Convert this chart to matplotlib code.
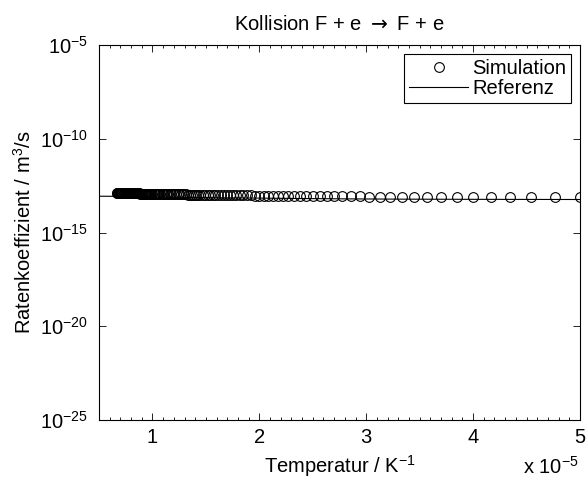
import matplotlib
matplotlib.use("Agg")
import matplotlib.pyplot as plt
from matplotlib.ticker import FixedLocator, MultipleLocator, LogFormatterMathtext, NullLocator
import numpy as np

plt.rcParams['font.family'] = ['Liberation Sans', 'DejaVu Sans']
plt.rcParams['mathtext.fontset'] = 'custom'
plt.rcParams['mathtext.rm'] = 'Liberation Sans'
plt.rcParams['mathtext.it'] = 'Liberation Sans:italic'
plt.rcParams['mathtext.bf'] = 'Liberation Sans:bold'

# Simulation: temperature in kK, rate coefficient in units of 1e-13 m^3/s
sim_temperature_kK = [
    20, 21, 22, 23, 24, 25, 26, 27, 28, 29,
    30, 31, 32, 33, 34, 35, 36, 37, 38, 39,
    40, 41, 42, 43, 44, 45, 46, 47, 48, 49,
    50, 51, 52, 53, 54, 55, 56, 57, 58, 59,
    60, 61, 62, 63, 64, 65, 66, 67, 68, 69,
    70, 71, 72, 73, 74, 75, 76, 77, 78, 79,
    80, 81, 82, 83, 84, 85, 86, 87, 88, 89,
    90, 91, 92, 93, 94, 95, 96, 97, 98, 99,
    100, 101, 102, 103, 104, 105, 106, 107, 108, 109,
    110, 111, 112, 113, 114, 115, 116, 117, 118, 119,
    120, 121, 122, 123, 124, 125, 126, 127, 128, 129,
    130, 131, 132, 133, 134, 135, 136, 137, 138, 139,
    140, 141, 142, 143, 144, 145, 146, 147, 148, 149,
    150,
]
sim_rate_e13 = [
    0.760, 0.766, 0.772, 0.778, 0.784, 0.790, 0.794, 0.798, 0.802, 0.806,
    0.810, 0.816, 0.822, 0.828, 0.834, 0.840, 0.846, 0.852, 0.858, 0.864,
    0.870, 0.876, 0.882, 0.888, 0.894, 0.900, 0.906, 0.912, 0.918, 0.924,
    0.930, 0.936, 0.942, 0.948, 0.954, 0.960, 0.966, 0.972, 0.978, 0.984,
    0.990, 0.994, 0.998, 1.002, 1.006, 1.010, 1.016, 1.022, 1.028, 1.034,
    1.040, 1.044, 1.048, 1.052, 1.056, 1.060, 1.064, 1.068, 1.072, 1.076,
    1.080, 1.084, 1.088, 1.092, 1.096, 1.100, 1.104, 1.108, 1.112, 1.116,
    1.120, 1.124, 1.128, 1.132, 1.136, 1.140, 1.144, 1.148, 1.152, 1.156,
    1.160, 1.164, 1.168, 1.172, 1.176, 1.180, 1.182, 1.184, 1.186, 1.188,
    1.190, 1.194, 1.198, 1.202, 1.206, 1.210, 1.212, 1.214, 1.216, 1.218,
    1.220, 1.224, 1.228, 1.232, 1.236, 1.240, 1.242, 1.244, 1.246, 1.248,
    1.250, 1.254, 1.258, 1.262, 1.266, 1.270, 1.272, 1.274, 1.276, 1.278,
    1.280, 1.282, 1.284, 1.286, 1.288, 1.290, 1.292, 1.294, 1.296, 1.298,
    1.300,
]

# Reference curve
ref_temperature_kK = [20, 22.5, 25, 30, 35, 40, 50, 60, 70, 80, 100, 120, 150, 200]
ref_rate_e13 = [0.575, 0.582, 0.588, 0.600, 0.620, 0.640, 0.682, 0.710, 0.730,
                0.750, 0.790, 0.815, 0.850, 0.860]

title_text = r"Kollision F + e $\rightarrow$ F + e"
xlabel_text = "Temperatur / K$^{-1}$"
ylabel_text = "Ratenkoeffizient / m$^3$/s"
legend_labels = ["Simulation", "Referenz"]

sim_x = 1.0 / (np.array(sim_temperature_kK) * 1e3)
sim_y = np.array(sim_rate_e13) * 1e-13
ref_x = 1.0 / (np.array(ref_temperature_kK) * 1e3)
ref_y = np.array(ref_rate_e13) * 1e-13

FS = 14.5

fig = plt.figure(figsize=(5.86, 4.79), dpi=100)
ax = fig.add_axes([99/586, 1 - 420/479, (580-99)/586, (420-45)/479])

ax.semilogy(sim_x * 1e5, sim_y, linestyle='none', marker='o', markersize=7,
            markerfacecolor='none', markeredgecolor='black', markeredgewidth=0.8,
            label=legend_labels[0])
ax.semilogy(ref_x * 1e5, ref_y, color='black', linewidth=0.8, label=legend_labels[1])

ax.set_xlim(0.5, 5)
ax.set_ylim(1e-25, 1e-5)
ax.xaxis.set_major_locator(FixedLocator([1, 2, 3, 4, 5]))
ax.xaxis.set_minor_locator(MultipleLocator(0.1))
ax.xaxis.set_major_formatter(matplotlib.ticker.FormatStrFormatter('%g'))
ax.yaxis.set_major_locator(FixedLocator([1e-25, 1e-20, 1e-15, 1e-10, 1e-5]))
ax.yaxis.set_minor_locator(NullLocator())
ax.yaxis.set_major_formatter(LogFormatterMathtext())

ax.tick_params(which='both', direction='in', top=True, right=True, labelsize=FS,
               width=0.6)
ax.tick_params(which='major', length=5)
ax.tick_params(which='minor', length=2.5)
ax.tick_params(axis='y', pad=8)
ax.tick_params(axis='x', pad=6)
for s in ax.spines.values():
    s.set_linewidth(0.8)

ax.set_title(title_text, fontsize=FS, pad=11, math_fontfamily='dejavusans')
ax.set_xlabel(xlabel_text, fontsize=FS, labelpad=4)
ax.set_ylabel(ylabel_text, fontsize=FS, labelpad=4)
fig.text(579/586, 1 - 467/479, "x 10$^{-5}$", ha='right', va='center', fontsize=FS)

leg = ax.legend(loc='upper right', fontsize=FS, frameon=True, fancybox=False,
                edgecolor='black', framealpha=1, borderpad=0.25, labelspacing=0.05,
                handlelength=2.9, handletextpad=0.2, borderaxespad=0.45)
leg.get_frame().set_linewidth(0.8)

fig.savefig("out.png", dpi=100)
